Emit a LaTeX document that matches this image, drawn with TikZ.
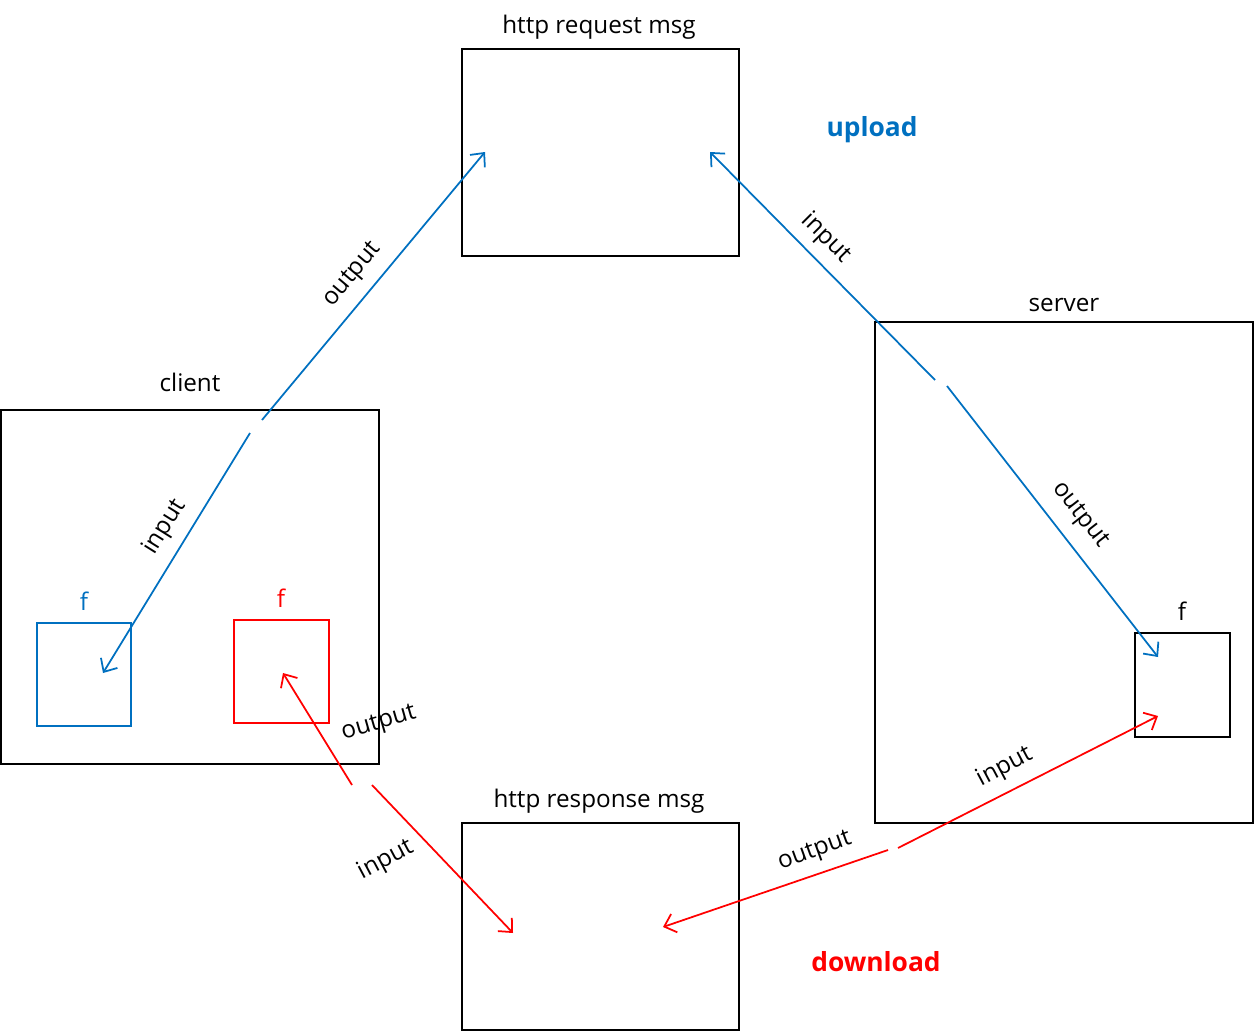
\documentclass[tikz,border=0pt]{standalone}
\usepackage{fontspec}
\setmainfont{Open Sans}
\usetikzlibrary{arrows.meta}
\definecolor{upblue}{HTML}{0070C0}
\definecolor{downred}{HTML}{FF0000}

\begin{document}
\begin{tikzpicture}[x=0.02cm,y=-0.02cm,
 font=\fontsize{13.8}{16}\selectfont,
 box/.style={draw,line width=1.1pt,inner sep=0pt},
 io/.style={inner sep=1pt},
 flow/.style={line width=1pt,-{Straight Barb[length=6pt,width=11pt]}}]
 \useasboundingbox (0,0) rectangle (1254,1031);
 % message boxes
 \node[box,minimum width=5.54cm,minimum height=4.14cm] (req) at (600.5,152.5) {};
 \node[box,minimum width=5.54cm,minimum height=4.14cm] (resp) at (600.5,926.5) {};
 \node (reqlbl) at (599,27) {http request msg};
 \node (resplbl) at (599,801) {http response msg};
 % hosts
 \node[box,minimum width=7.56cm,minimum height=7.08cm] (client) at (190,587) {};
 \node[box,minimum width=7.56cm,minimum height=10.02cm] (server) at (1064,572.5) {};
 \node (clientlbl) at (190,382) {client};
 \node (serverlbl) at (1064,305) {server};
 % files
 \node[box,upblue,minimum width=1.88cm,minimum height=2.06cm] (cfup) at (84,674.5) {};
 \node[box,downred,minimum width=1.9cm,minimum height=2.06cm] (cfdown) at (281.5,671.5) {};
 \node[box,minimum width=1.9cm,minimum height=2.08cm] (sf) at (1182.5,685) {};
 \node[upblue] (cfuplbl) at (84,601) {f};
 \node[downred] (cfdownlbl) at (281,598) {f};
 \node (sflbl) at (1182,611) {f};
 \node[upblue,font=\fontsize{15}{18}\selectfont\bfseries] (uplbl) at (872,130) {upload};
 \node[downred,font=\fontsize{15}{18}\selectfont\bfseries] (downlbl) at (876,962) {download};
 % arrow ends
 \coordinate (qa) at (485,152); \coordinate (qb) at (710,152);
 \coordinate (ra) at (513,933); \coordinate (rb) at (663,927);
 \coordinate (cfa) at (103,673); \coordinate (cfb) at (283,673);
 \coordinate (sfa) at (1158,657); \coordinate (sfb) at (1158,716);
 \coordinate (g1a) at (262,420); \coordinate (g1b) at (250,433);
 \coordinate (g2a) at (935,380); \coordinate (g2b) at (947,386);
 \coordinate (g3a) at (352,785); \coordinate (g3b) at (372,785);
 \coordinate (g4a) at (888,850); \coordinate (g4b) at (898,848);
 % upload
 \draw[flow,upblue] (g1a) -- (qa);
 \draw[flow,upblue] (g1b) -- (cfa);
 \draw[flow,upblue] (g2a) -- (qb);
 \draw[flow,upblue] (g2b) -- (sfa);
 % download
 \draw[flow,downred] (g3a) -- (cfb);
 \draw[flow,downred] (g3b) -- (ra);
 \draw[flow,downred] (g4a) -- (rb);
 \draw[flow,downred] (g4b) -- (sfb);
 % io labels
 \node[io,rotate=50] at (353,275) {output};
 \node[io,rotate=58] at (165,527) {input};
 \node[io,rotate=-45] at (826,238) {input};
 \node[io,rotate=-52] at (1080,515) {output};
 \node[io,rotate=16] at (379,724) {output};
 \node[io,rotate=28] at (386,860) {input};
 \node[io,rotate=20] at (815,852) {output};
 \node[io,rotate=28] at (1005,767) {input};
\end{tikzpicture}
\end{document}
